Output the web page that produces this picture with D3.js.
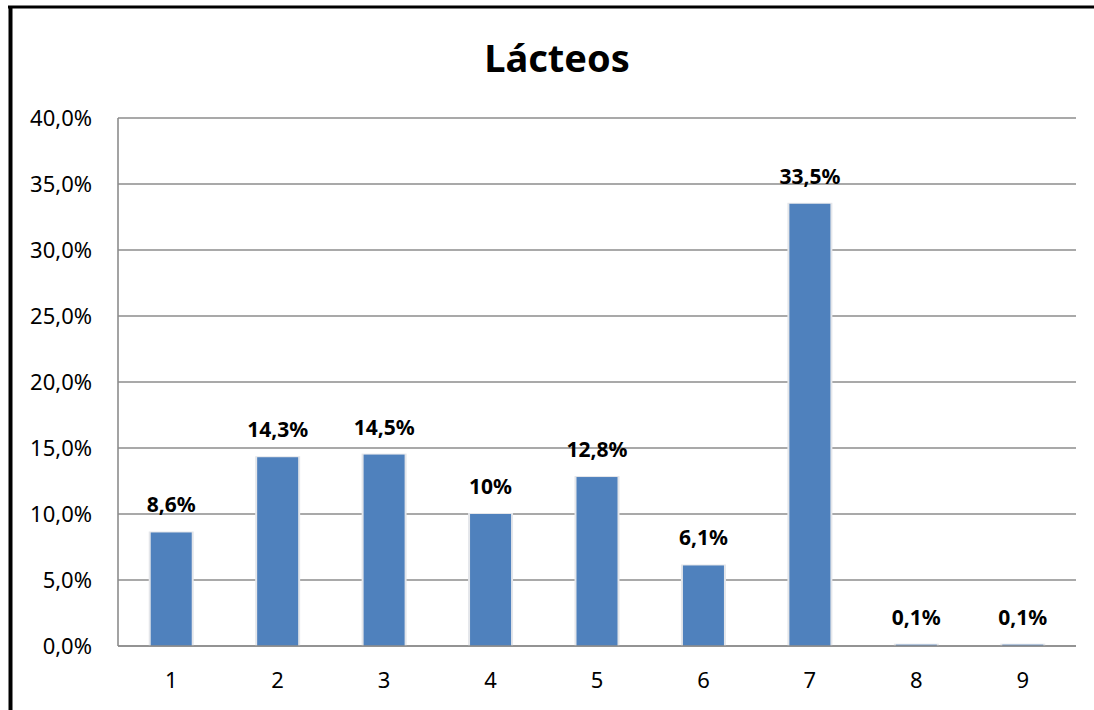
<!DOCTYPE html>
<html lang="es">
<head>
<meta charset="UTF-8">
<title>Lácteos</title>
<script src="https://d3js.org/d3.v7.min.js"></script>
<style>
  body { margin: 0; background: #fff; }
  text { font-family: "Noto Sans", "Open Sans", sans-serif; }
</style>
</head>
<body>
<script>
    // data
    var categories = ["1", "2", "3", "4", "5", "6", "7", "8", "9"];
    var values = [8.6, 14.3, 14.5, 10, 12.8, 6.1, 33.5, 0.1, 0.1];
    var valueLabels = ["8,6%", "14,3%", "14,5%", "10%", "12,8%", "6,1%", "33,5%", "0,1%", "0,1%"];
    var yTicks = [0, 5, 10, 15, 20, 25, 30, 35, 40];

    var width = 1094, height = 710;
    var plotLeft = 118, plotRight = 1076, plotTop = 118, plotBottom = 646;

    var svg = d3.select("body").append("svg")
        .attr("width", width)
        .attr("height", height);

    // frame (only top and left edges are visible in the picture)
    svg.append("line").attr("x1", 8).attr("x2", width).attr("y1", 7).attr("y2", 7)
        .attr("stroke", "#000").attr("stroke-width", 3);
    svg.append("line").attr("x1", 10.5).attr("x2", 10.5).attr("y1", 6).attr("y2", height)
        .attr("stroke", "#000").attr("stroke-width", 4);

    var x = d3.scaleBand().domain(categories).range([plotLeft, plotRight]).paddingInner(0).paddingOuter(0);
    var y = d3.scaleLinear().domain([0, 40]).range([plotBottom, plotTop]);

    // gridlines
    svg.append("g").selectAll("line")
        .data(yTicks)
        .enter().append("line")
        .attr("x1", plotLeft).attr("x2", plotRight)
        .attr("y1", d => y(d)).attr("y2", d => y(d))
        .attr("stroke", "#8c8c8c").attr("stroke-width", 1.6);

    // left axis line
    svg.append("line").attr("x1", plotLeft).attr("x2", plotLeft).attr("y1", plotTop).attr("y2", plotBottom)
        .attr("stroke", "#8c8c8c").attr("stroke-width", 1.6);

    // y tick labels
    svg.append("g").selectAll("text")
        .data(yTicks)
        .enter().append("text")
        .attr("x", plotLeft - 26)
        .attr("y", d => y(d))
        .attr("dy", "0.36em")
        .attr("text-anchor", "end")
        .attr("font-size", 22)
        .attr("fill", "#000")
        .text(d => d.toFixed(1).replace(".", ",") + "%");

    // x tick labels
    svg.append("g").selectAll("text")
        .data(categories)
        .enter().append("text")
        .attr("x", d => x(d) + x.bandwidth() / 2)
        .attr("y", 688)
        .attr("text-anchor", "middle")
        .attr("font-size", 22)
        .attr("fill", "#000")
        .text(d => d);

    var barW = 41;

    // soft shadow behind bars
    svg.append("g").selectAll("rect")
        .data(values)
        .enter().append("rect")
        .attr("x", (d, i) => x(categories[i]) + x.bandwidth() / 2 - barW / 2 - 2)
        .attr("y", d => y(d) - 1)
        .attr("width", barW + 4)
        .attr("height", d => plotBottom - y(d) + 1)
        .attr("fill", "#e4e6ea");

    svg.append("g").selectAll("rect")
        .data(values)
        .enter().append("rect")
        .attr("x", (d, i) => x(categories[i]) + x.bandwidth() / 2 - barW / 2)
        .attr("y", d => y(d))
        .attr("width", barW)
        .attr("height", d => plotBottom - y(d))
        .attr("fill", "#4f81bd");

    // redraw baseline over the bars
    svg.append("line").attr("x1", plotLeft).attr("x2", plotRight).attr("y1", plotBottom).attr("y2", plotBottom)
        .attr("stroke", "#8c8c8c").attr("stroke-width", 1.6);

    // value labels
    svg.append("g").selectAll("text")
        .data(values)
        .enter().append("text")
        .attr("x", (d, i) => x(categories[i]) + x.bandwidth() / 2)
        .attr("y", d => y(d) - 20)
        .attr("text-anchor", "middle")
        .attr("font-size", 21)
        .attr("font-weight", "bold")
        .attr("fill", "#000")
        .text((d, i) => valueLabels[i]);

    // title
    svg.append("text")
        .attr("x", 557)
        .attr("y", 72)
        .attr("text-anchor", "middle")
        .attr("font-size", 38)
        .attr("font-weight", "bold")
        .attr("fill", "#000")
        .text("Lácteos");
</script>
</body>
</html>
